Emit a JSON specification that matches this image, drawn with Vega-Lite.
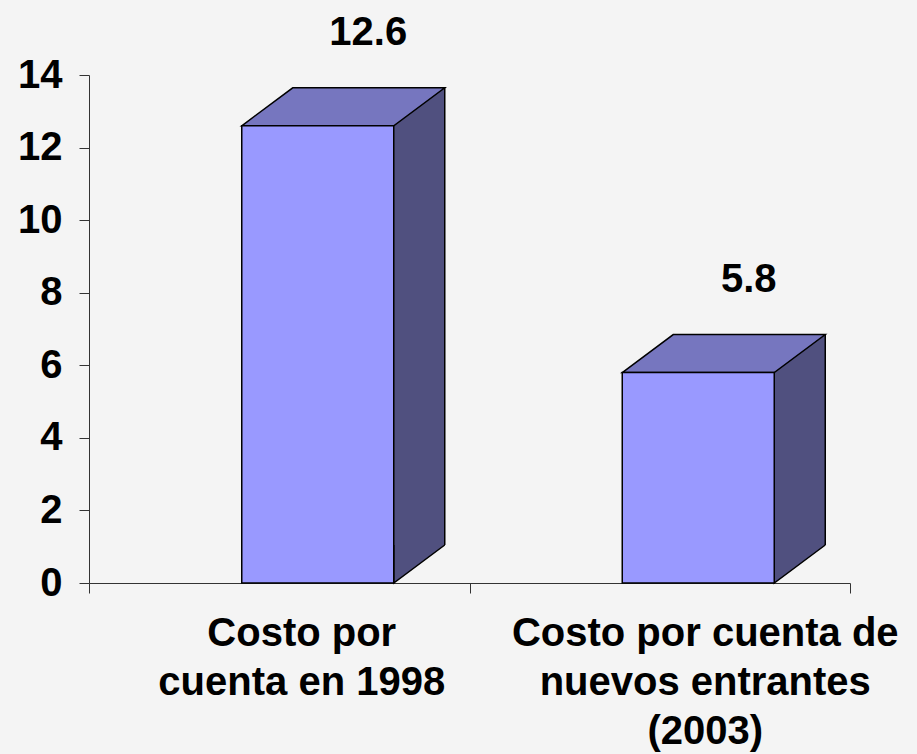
{
  "$schema": "https://vega.github.io/schema/vega-lite/v6.json",
  "width": 761,
  "height": 508,
  "autosize": {"type": "none"},
  "padding": {"left": 89, "top": 75, "right": 67, "bottom": 171},
  "background": "#f4f4f4",
  "config": {
    "view": {"stroke": null},
    "font": "Liberation Sans",
    "axis": {"labelFont": "Liberation Sans", "labelFontWeight": "bold", "labelFontSize": 40, "labelColor": "#000000", "domainColor": "#333333", "tickColor": "#333333", "domainWidth": 1, "tickWidth": 1, "tickSize": 10, "grid": false}
  },
  "data": {
    "values": [
      {"categoria": "Costo por cuenta en 1998", "costo": 12.6},
      {"categoria": "Costo por cuenta de nuevos entrantes (2003)", "costo": 5.8}
    ]
  },
  "encoding": {
    "x": {
      "field": "categoria",
      "type": "nominal",
      "sort": null,
      "scale": {"paddingInner": 0, "paddingOuter": 0},
      "axis": {
        "title": null,
        "labelAngle": 0,
        "tickBand": "extent",
        "labelPadding": 20,
        "labelBaseline": "top",
        "labelLineHeight": 49,
        "labelLimit": 0,
        "labelOverlap": false,
        "labelBound": false,
        "labelOffset": {"condition": {"test": "datum.value == 'Costo por cuenta en 1998'", "value": 22}, "value": 45},
        "labelExpr": "datum.value == 'Costo por cuenta en 1998' ? ['Costo por', 'cuenta en 1998'] : datum.value == 'Costo por cuenta de nuevos entrantes (2003)' ? ['Costo por cuenta de', 'nuevos entrantes', '(2003)'] : ''"
      }
    }
  },
  "layer": [
    {
      "mark": {"type": "bar", "width": 51, "xOffset": 140, "yOffset": -38, "y2Offset": -38, "fill": "#50507f", "strokeWidth": 0},
      "encoding": {
        "y": {"field": "costo", "type": "quantitative", "stack": null, "scale": {"domain": [0, 14]}, "axis": {"title": null, "values": [0, 2, 4, 6, 8, 10, 12, 14], "labelPadding": 17}},
        "y2": {"datum": 0}
      }
    },
    {
      "mark": {"type": "point", "shape": "M165.5,-38L114.5,0L114.5,-38", "size": 4, "filled": true, "opacity": 1, "fill": "#50507f", "stroke": "#000000", "strokeWidth": 1.5},
      "encoding": {"y": {"datum": 0, "type": "quantitative"}}
    },
    {
      "mark": {"type": "rule", "xOffset": 165.5, "yOffset": -38, "y2Offset": -38, "stroke": "#000000", "strokeWidth": 1.5},
      "encoding": {
        "y": {"field": "costo", "type": "quantitative"},
        "y2": {"datum": 0}
      }
    },
    {
      "mark": {"type": "point", "shape": "M-37.5,0L13.5,-38L165.5,-38L114.5,0Z", "size": 4, "filled": true, "opacity": 1, "fill": "#7676bf", "stroke": "#000000", "strokeWidth": 1.5},
      "encoding": {"y": {"field": "costo", "type": "quantitative"}}
    },
    {
      "mark": {"type": "bar", "width": 152, "xOffset": 38.5, "fill": "#9999ff", "stroke": "#000000", "strokeWidth": 1.5},
      "encoding": {
        "y": {"field": "costo", "type": "quantitative", "stack": null},
        "y2": {"datum": 0}
      }
    },
    {
      "mark": {"type": "text", "xOffset": 89, "yOffset": -81, "baseline": "alphabetic", "align": "center", "font": "Liberation Sans", "fontWeight": "bold", "fontSize": 40, "color": "#000000"},
      "encoding": {
        "y": {"field": "costo", "type": "quantitative"},
        "text": {"field": "costo", "type": "quantitative", "format": ".1f"}
      }
    }
  ]
}
